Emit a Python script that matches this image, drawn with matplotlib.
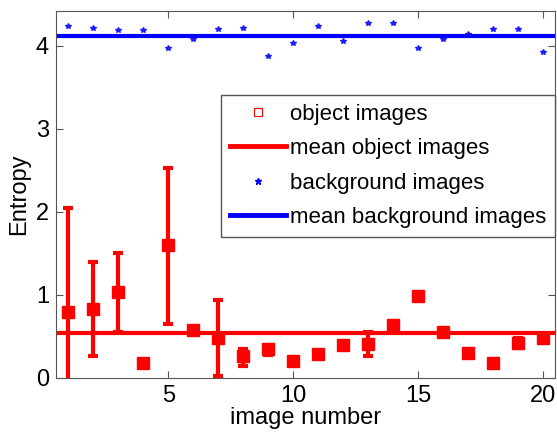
import matplotlib
matplotlib.use("Agg")
import matplotlib.pyplot as plt
from matplotlib.lines import Line2D

# image index
image_number = list(range(1, 21))

# entropy of object images and error bar limits (lower, upper)
obj_entropy = [0.80, 0.83, 1.03, 0.18, 1.60, 0.58, 0.48, 0.26, 0.35, 0.20,
               0.29, 0.40, 0.41, 0.64, 0.99, 0.55, 0.30, 0.18, 0.42, 0.48]
obj_low = [-0.40, 0.26, 0.55, 0.18, 0.65, 0.58, 0.02, 0.15, 0.28, 0.20,
           0.29, 0.40, 0.27, 0.64, 0.99, 0.55, 0.30, 0.18, 0.36, 0.44]
obj_high = [2.05, 1.40, 1.50, 0.18, 2.53, 0.58, 0.94, 0.35, 0.40, 0.20,
            0.29, 0.40, 0.55, 0.64, 0.99, 0.55, 0.30, 0.18, 0.48, 0.52]
obj_mean = 0.54

# entropy of background images
bg_entropy = [4.24, 4.21, 4.19, 4.19, 3.98, 4.08, 4.20, 4.21, 3.88, 4.04,
              4.24, 4.06, 4.27, 4.27, 3.97, 4.08, 4.14, 4.20, 4.20, 3.93]
bg_mean = 4.12

plt.rcParams['font.family'] = ['Liberation Sans', 'DejaVu Sans']

fig = plt.figure(figsize=(5.57, 4.32), dpi=100)
ax = fig.add_axes([0.1005, 0.125, 0.8965, 0.8495])

red = (1, 0, 0)
blue = (0, 0, 1)

# object images with error bars, and their mean
yerr = [[e - l for e, l in zip(obj_entropy, obj_low)],
        [h - e for e, h in zip(obj_entropy, obj_high)]]
ax.errorbar(image_number, obj_entropy, yerr=yerr, fmt='s', color=red,
            markersize=8.5, elinewidth=3, capsize=3.3, capthick=3, zorder=3)
ax.axhline(obj_mean, color=red, linewidth=3, zorder=2)

# background images and their mean
ax.plot(image_number, bg_entropy, '*', color=blue, markersize=4, alpha=0.8, zorder=3)
ax.axhline(bg_mean, color=blue, linewidth=3, zorder=2)

ax.set_xlim(0.5, 20.5)
ax.set_ylim(0, 4.42)
ax.set_xticks([5, 10, 15, 20])
ax.set_yticks([0, 1, 2, 3, 4])
ax.tick_params(direction='in', top=True, right=True, labelsize=17, length=5,
               color='#555555', pad=5)
for s in ax.spines.values():
    s.set_color('#555555')
ax.set_xlabel('image number', fontsize=17, labelpad=0)
ax.set_ylabel('Entropy', fontsize=17, labelpad=4)

# legend: hollow square for object images as in the original
handles = [
    Line2D([], [], linestyle='none', marker='s', markersize=6,
           markerfacecolor='none', markeredgecolor=red, markeredgewidth=0.8),
    Line2D([], [], color=red, linewidth=3.5),
    Line2D([], [], linestyle='none', marker='*', markersize=5, color=blue),
    Line2D([], [], color=blue, linewidth=3.5),
]
labels = ['object images', 'mean object images', 'background images',
          'mean background images']
leg = ax.legend(handles, labels, loc='upper right', bbox_to_anchor=(1.0, 0.771),
                fontsize=16, fancybox=False, framealpha=1, edgecolor='#555555',
                handlelength=2.5, handletextpad=0.2, borderpad=0.4,
                labelspacing=0.6, borderaxespad=0)
leg.get_frame().set_linewidth(1)

fig.savefig('out.png', dpi=100)
